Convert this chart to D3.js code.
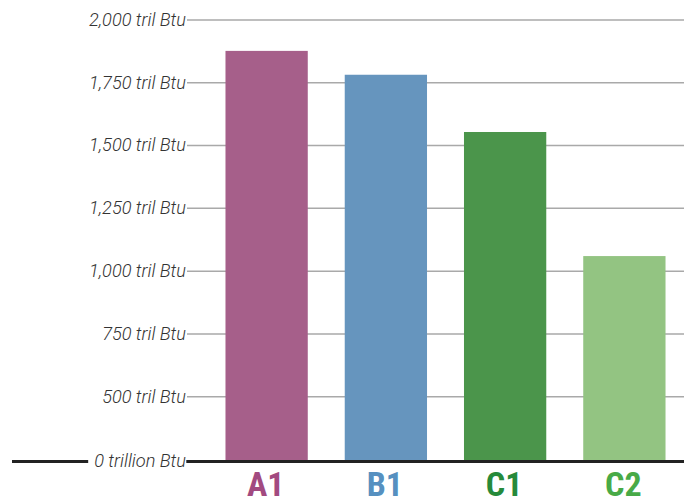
<!DOCTYPE html>
<html>
<head>
<meta charset="utf-8">
<script src="https://cdn.jsdelivr.net/npm/d3@7"></script>
<style>
  html, body { margin: 0; padding: 0; background: #fff; }
  svg { display: block; }
</style>
</head>
<body>
<svg id="chart" width="690" height="504"></svg>
<script>
// ---- data ----
const categories = ["A1", "B1", "C1", "C2"];
const values = [1875, 1780, 1552, 1058];
const barColors = ["#a65f8a", "#6695be", "#4b954b", "#93c482"];
const labelColors = ["#a24a80", "#5690c0", "#268a3a", "#48aa47"];
const tickValues = [0, 500, 750, 1000, 1250, 1500, 1750, 2000];
const tickLabels = ["0 trillion Btu", "500 tril Btu", "750 tril Btu", "1,000 tril Btu",
                    "1,250 tril Btu", "1,500 tril Btu", "1,750 tril Btu", "2,000 tril Btu"];
const axisFloor = 240; // value shown at the baseline (axis is broken, labelled 0)

// ---- layout ----
const svg = d3.select("#chart");
const plotLeft = 187, plotRight = 684, plotTop = 19.5, plotBottom = 461.5;

const x = d3.scaleBand()
  .domain(categories)
  .range([207, plotRight])
  .paddingInner(0.31)
  .paddingOuter(0.155);

const y = d3.scaleLinear()
  .domain([axisFloor, 2000])
  .range([plotBottom, plotTop])
  .clamp(true);

const tickFont = "Roboto, 'Liberation Sans', sans-serif";
const tickSize = "18.2px";

// grid + tick labels
const axis = d3.axisLeft(y)
  .tickValues(tickValues)
  .tickSize(-(plotRight - plotLeft))
  .tickPadding(1)
  .tickFormat((d, i) => tickLabels[i]);

const gAxis = svg.append("g")
  .attr("transform", `translate(${plotLeft},0)`)
  .call(axis);
gAxis.select(".domain").remove();
gAxis.selectAll(".tick line")
  .attr("stroke", "#a9a9a9")
  .attr("stroke-width", 1.5);
gAxis.selectAll(".tick text")
  .attr("fill", "#333")
  .style("font-family", tickFont)
  .style("font-weight", 300)
  .style("font-style", "italic")
  .style("font-size", tickSize);

// bars
svg.append("g").selectAll("rect")
  .data(values)
  .join("rect")
  .attr("x", (d, i) => x(categories[i]))
  .attr("width", x.bandwidth())
  .attr("y", d => y(d))
  .attr("height", d => y(0) - y(d))
  .attr("fill", (d, i) => barColors[i]);

// baseline
svg.append("line")
  .attr("x1", 12).attr("x2", plotRight)
  .attr("y1", y(0)).attr("y2", y(0))
  .attr("stroke", "#222")
  .attr("stroke-width", 3);

// white gap behind zero label, and bring label to front
const zeroTick = gAxis.selectAll(".tick").filter(d => d === 0);
const zt = zeroTick.select("text").node();
const bb = zt.getBBox();
const zg = svg.append("g").attr("transform", `translate(${plotLeft},${y(0)})`);
zg.append("rect")
  .attr("x", bb.x - 6).attr("y", -3)
  .attr("width", bb.width + 6).attr("height", 6)
  .attr("fill", "#fff");
zg.append("text")
  .attr("x", -1).attr("dy", "0.32em")
  .attr("text-anchor", "end")
  .attr("fill", "#333")
  .style("font-family", tickFont)
  .style("font-weight", 300)
  .style("font-style", "italic")
  .style("font-size", tickSize)
  .text(tickLabels[0]);
zeroTick.select("text").remove();

// category labels
svg.append("g").selectAll("text")
  .data(categories)
  .join("text")
  .attr("x", d => x(d) + x.bandwidth() / 2 - 1)
  .attr("y", 496)
  .attr("text-anchor", "middle")
  .attr("fill", (d, i) => labelColors[i])
  .style("font-family", "'Liberation Sans Narrow', 'Roboto Condensed', sans-serif")
  .style("font-weight", 700)
  .style("font-size", "34px")
  .text(d => d);
</script>
</body>
</html>
